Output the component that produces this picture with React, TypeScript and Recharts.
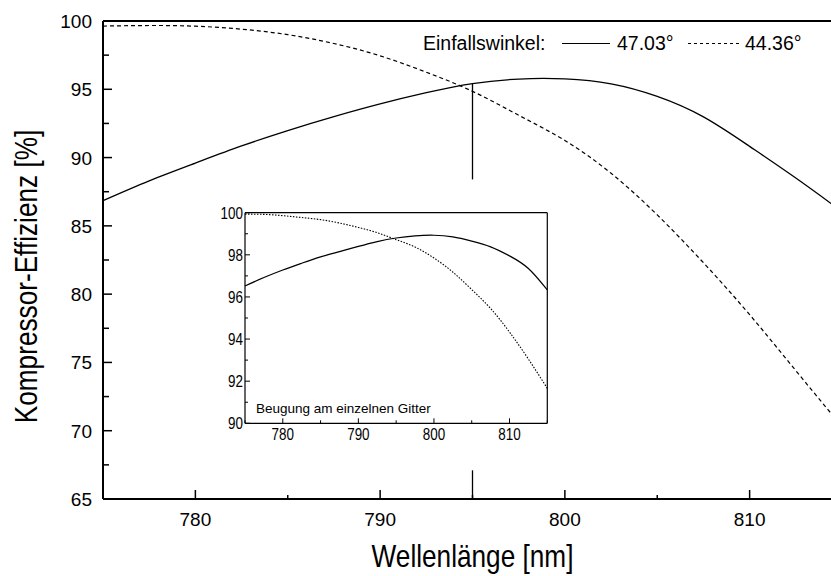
import React from 'react';
import { LineChart, Line, XAxis, YAxis, ReferenceLine, Legend, Label } from 'recharts';

// ---------- data ----------
const wavelengthsNm = [775, 777.5, 780, 782.5, 785, 787.5, 790, 792.5, 795, 797.5, 800, 802.5, 805, 807.5, 810, 812.5, 815];
// Main plot: compressor efficiency [%]
const compressor4703 = [86.85, 88.3, 89.6, 90.85, 91.98, 93.0, 93.93, 94.75, 95.42, 95.75, 95.76, 95.4, 94.48, 92.98, 90.82, 88.5, 86.05];
const compressor4436 = [99.63, 99.67, 99.62, 99.4, 99.0, 98.35, 97.45, 96.25, 94.85, 93.1, 91.25, 88.85, 85.8, 82.3, 78.5, 74.4, 70.3];
// Inset: diffraction at a single grating [%]
const grating4703 = [96.52, 96.92, 97.28, 97.6, 97.9, 98.15, 98.4, 98.63, 98.8, 98.9, 98.93, 98.85, 98.65, 98.38, 97.95, 97.35, 96.33];
const grating4436 = [99.93, 99.92, 99.86, 99.77, 99.67, 99.51, 99.3, 99.05, 98.72, 98.37, 97.85, 97.18, 96.35, 95.45, 94.33, 93.05, 91.66];

const seriesNames = ['47.03°', '44.36°'];
const legendTitle = 'Einfallswinkel:';
const xTitle = 'Wellenlänge [nm]';
const yTitle = 'Kompressor-Effizienz [%]';
const insetTitle = 'Beugung am einzelnen Gitter';

const mainXTicks = [780, 785, 790, 795, 800, 805, 810];
const mainYTicks = [65, 67.5, 70, 72.5, 75, 77.5, 80, 82.5, 85, 87.5, 90, 92.5, 95, 97.5, 100];
const insetXTicks = [775, 780, 785, 790, 795, 800, 805, 810, 815];
const insetYTicks = [90, 91, 92, 93, 94, 95, 96, 97, 98, 99, 100];

const markerNm = 795;
const markerUpper = [95.4, 88.4];
const markerLower = [67.1, 65];

const mainSolid = wavelengthsNm.map((x, i) => ({ x, y: compressor4703[i] }));
const mainDashed = wavelengthsNm.map((x, i) => ({ x, y: compressor4436[i] }));
const insetSolid = wavelengthsNm.map((x, i) => ({ x, y: grating4703[i] }));
const insetDotted = wavelengthsNm.map((x, i) => ({ x, y: grating4436[i] }));

const SANS = "'Liberation Sans', Arial, sans-serif";

const isMult = (v: number, m: number) => Math.abs(v / m - Math.round(v / m)) < 1e-6;

// ---------- main ticks ----------
const MainLeftTick = (props: any) => {
  const { x, y, payload } = props;
  const v = payload.value;
  const major = isMult(v, 5);
  return (
    <g>
      <line x1={x} x2={x + (major ? 9 : 6)} y1={y} y2={y} stroke="#000" strokeWidth={1.5} />
      {major && (
        <text x={x - 11} y={y + 7} textAnchor="end" fontSize={19} fontFamily={SANS} fill="#000">
          {v}
        </text>
      )}
    </g>
  );
};

const MainBottomTick = (props: any) => {
  const { x, y, payload } = props;
  const v = payload.value;
  const major = isMult(v, 10);
  return (
    <g>
      <line x1={x} x2={x} y1={y} y2={y - (major ? 9 : 4)} stroke="#000" strokeWidth={1.5} />
      {major && (
        <text x={x} y={y + 27} textAnchor="middle" fontSize={19} fontFamily={SANS} fill="#000">
          {v}
        </text>
      )}
    </g>
  );
};

const MainTopTick = (props: any) => {
  const { x, y } = props;
  return <line x1={x} x2={x} y1={y} y2={y + 4} stroke="#000" strokeWidth={1.5} />;
};

// ---------- inset ticks ----------
const InsetLeftTick = (props: any) => {
  const { x, y, payload } = props;
  const v = payload.value;
  const major = isMult(v, 2);
  return (
    <g>
      <line x1={x} x2={x + (major ? 5 : 3)} y1={y} y2={y} stroke="#000" strokeWidth={1} />
      {major && (
        <text
          transform={`translate(${x - 2}, ${y + 5.8}) scale(0.84, 1)`}
          textAnchor="end"
          fontSize={16}
          fontFamily={SANS}
          fill="#000"
        >
          {v}
        </text>
      )}
    </g>
  );
};

const InsetRightTick = (props: any) => {
  const { x, y, payload } = props;
  const major = isMult(payload.value, 2);
  return <line x1={x} x2={x - (major ? 5 : 3)} y1={y} y2={y} stroke="#000" strokeWidth={1} />;
};

const InsetBottomTick = (props: any) => {
  const { x, y, payload } = props;
  const v = payload.value;
  const major = isMult(v, 10);
  return (
    <g>
      <line x1={x} x2={x} y1={y} y2={y - (major ? 5 : 3)} stroke="#000" strokeWidth={1} />
      {major && (
        <text
          transform={`translate(${x}, ${y + 16.7}) scale(0.84, 1)`}
          textAnchor="middle"
          fontSize={16}
          fontFamily={SANS}
          fill="#000"
        >
          {v}
        </text>
      )}
    </g>
  );
};

const InsetTopTick = (props: any) => {
  const { x, y, payload } = props;
  const major = isMult(payload.value, 10);
  return <line x1={x} x2={x} y1={y} y2={y + (major ? 5 : 3)} stroke="#000" strokeWidth={1} />;
};

// ---------- legend ----------
const LegendContent = () => (
  <svg width={420} height={40} style={{ display: 'block' }}>
    <text x={8} y={25} fontSize={19.5} fontFamily={SANS} fill="#000">{legendTitle}</text>
    <line x1={147} x2={195} y1={18.5} y2={18.5} stroke="#000" strokeWidth={1.2} />
    <text x={202} y={25} fontSize={19.5} fontFamily={SANS} fill="#000">{seriesNames[0]}</text>
    <line x1={273} x2={325} y1={18.5} y2={18.5} stroke="#000" strokeWidth={1.2} strokeDasharray="3 3" />
    <text x={330} y={25} fontSize={19.5} fontFamily={SANS} fill="#000">{seriesNames[1]}</text>
  </svg>
);

export default function App() {
  return (
    <div style={{ position: 'fixed', left: 0, top: 0, width: 831, height: 576, overflow: 'hidden', background: '#fff' }}>
      <LineChart width={850} height={576} margin={{ top: 0, right: 8, bottom: 0, left: 0 }}>
        <XAxis
          dataKey="x"
          type="number"
          domain={[775, 815]}
          ticks={mainXTicks}
          interval={0}
          height={77}
          tickSize={0}
          tickMargin={0}
          tickLine={false}
          axisLine={{ stroke: '#000', strokeWidth: 2 }}
          tick={<MainBottomTick />}
        >
          <Label
            content={(p: any) => {
              const vb = p.viewBox || {};
              return (
                <text
                  transform={`translate(${vb.x + vb.width / 2}, ${vb.y + 67.5}) scale(0.845, 1)`}
                  textAnchor="middle"
                  fontSize={31}
                  fontFamily={SANS}
                  fill="#000"
                >
                  {xTitle}
                </text>
              );
            }}
          />
        </XAxis>
        <XAxis
          xAxisId="top"
          orientation="top"
          dataKey="x"
          type="number"
          domain={[775, 815]}
          ticks={mainXTicks}
          interval={0}
          height={21}
          tickSize={0}
          tickMargin={0}
          tickLine={false}
          axisLine={{ stroke: '#000', strokeWidth: 2 }}
          tick={<MainTopTick />}
        />
        <YAxis
          type="number"
          domain={[65, 100]}
          ticks={mainYTicks}
          interval={0}
          width={103}
          tickSize={0}
          tickMargin={0}
          tickLine={false}
          axisLine={{ stroke: '#000', strokeWidth: 2 }}
          tick={<MainLeftTick />}
        >
          <Label
            content={() => (
              <text
                transform="translate(37, 276.5) rotate(-90) scale(0.845, 1)"
                textAnchor="middle"
                fontSize={31}
                fontFamily={SANS}
                fill="#000"
              >
                {yTitle}
              </text>
            )}
          />
        </YAxis>
        <Line
          data={mainSolid}
          dataKey="y"
          name={seriesNames[0]}
          type="natural"
          stroke="#000"
          strokeWidth={1.3}
          dot={false}
          activeDot={false}
          isAnimationActive={false}
        />
        <Line
          data={mainDashed}
          dataKey="y"
          name={seriesNames[1]}
          type="natural"
          stroke="#000"
          strokeWidth={1.2}
          strokeDasharray="4 3"
          dot={false}
          activeDot={false}
          isAnimationActive={false}
        />
        <ReferenceLine
          segment={[{ x: markerNm, y: markerUpper[0] }, { x: markerNm, y: markerUpper[1] }]}
          stroke="#000"
          strokeWidth={1.3}
        />
        <ReferenceLine
          segment={[{ x: markerNm, y: markerLower[0] }, { x: markerNm, y: markerLower[1] }]}
          stroke="#000"
          strokeWidth={1.3}
        />
        <Legend
          layout="horizontal"
          verticalAlign="middle"
          align="center"
          wrapperStyle={{ left: 415, top: 25, width: 420, height: 40 }}
          content={() => <LegendContent />}
        />
      </LineChart>

      <div style={{ position: 'absolute', left: 195, top: 195, width: 365, height: 260 }}>
        <LineChart width={365} height={260} margin={{ top: 0, right: 0, bottom: 0, left: 0 }}>
          <XAxis
            dataKey="x"
            type="number"
            domain={[775, 815]}
            ticks={insetXTicks}
            interval={0}
            height={31.7}
            tickSize={0}
            tickMargin={0}
            tickLine={false}
            axisLine={{ stroke: '#000', strokeWidth: 1.2 }}
            tick={<InsetBottomTick />}
          >
            <Label
              content={(p: any) => {
                const vb = p.viewBox || {};
                return (
                  <text x={vb.x + 11} y={vb.y - 10.6} fontSize={13.5} fontFamily={SANS} fill="#000">
                    {insetTitle}
                  </text>
                );
              }}
            />
          </XAxis>
          <XAxis
            xAxisId="t"
            orientation="top"
            dataKey="x"
            type="number"
            domain={[775, 815]}
            ticks={insetXTicks}
            interval={0}
            height={17.7}
            tickSize={0}
            tickMargin={0}
            tickLine={false}
            axisLine={{ stroke: '#000', strokeWidth: 1.2 }}
            tick={<InsetTopTick />}
          />
          <YAxis
            type="number"
            domain={[90, 100]}
            ticks={insetYTicks}
            interval={0}
            width={50}
            tickSize={0}
            tickMargin={0}
            tickLine={false}
            axisLine={{ stroke: '#000', strokeWidth: 1.2 }}
            tick={<InsetLeftTick />}
          />
          <YAxis
            yAxisId="r"
            orientation="right"
            type="number"
            domain={[90, 100]}
            ticks={insetYTicks}
            interval={0}
            width={12.7}
            tickSize={0}
            tickMargin={0}
            tickLine={false}
            axisLine={{ stroke: '#000', strokeWidth: 1.2 }}
            tick={<InsetRightTick />}
          />
          <Line
            data={insetSolid}
            dataKey="y"
            name={seriesNames[0]}
            type="natural"
            stroke="#000"
            strokeWidth={1.2}
            dot={false}
            activeDot={false}
            isAnimationActive={false}
          />
          <Line
            data={insetDotted}
            dataKey="y"
            name={seriesNames[1]}
            type="natural"
            stroke="#000"
            strokeWidth={1.1}
            strokeDasharray="1.5 1.5"
            dot={false}
            activeDot={false}
            isAnimationActive={false}
          />
        </LineChart>
      </div>
    </div>
  );
}
